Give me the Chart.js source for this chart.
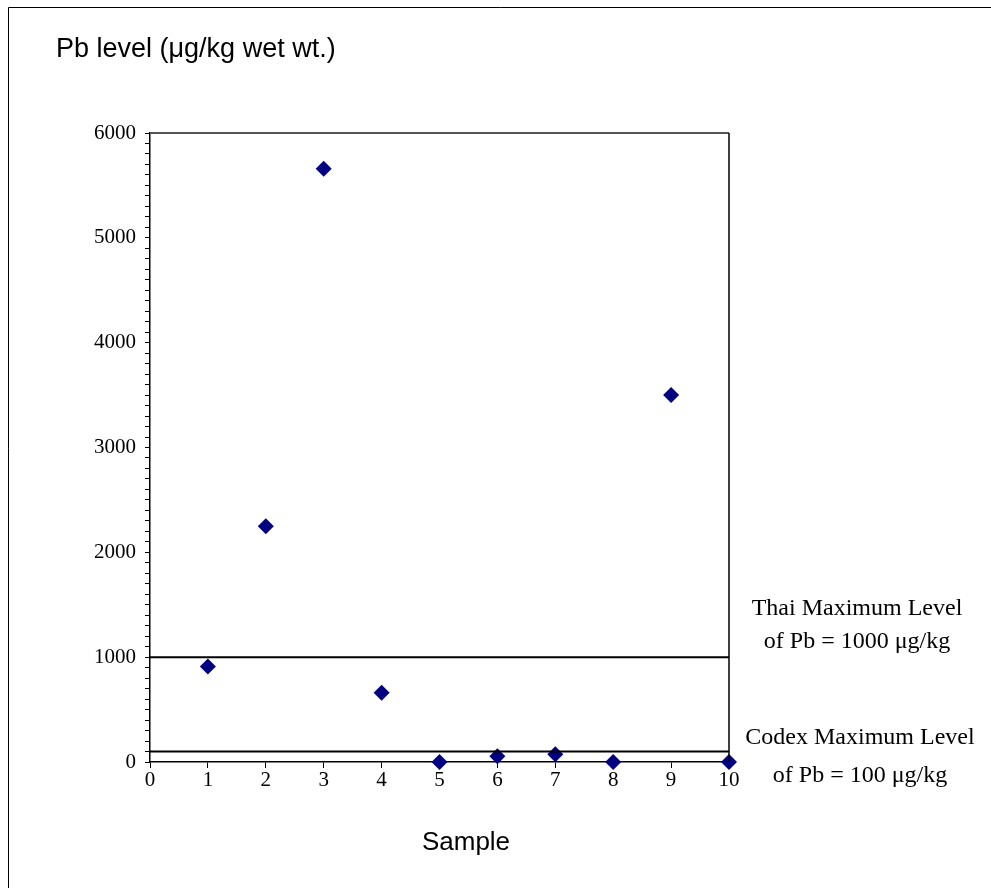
<!DOCTYPE html>
<html>
<head>
<meta charset="utf-8">
<script src="https://cdn.jsdelivr.net/npm/chart.js@4.4.0/dist/chart.umd.min.js"></script>
<style>
  html, body { margin: 0; padding: 0; background: #ffffff; }
  #wrap { position: relative; width: 991px; height: 888px; }
</style>
</head>
<body>
<div id="wrap"><canvas id="c" width="991" height="888"></canvas></div>
<script>
// ---- Data ----
const samples = [1, 2, 3, 4, 5, 6, 7, 8, 9, 10];
const pbLevels = [910, 2250, 5660, 660, 0, 55, 75, 0, 3500, 0];
const thaiLimit = 1000;
const codexLimit = 100;
const xRange = [0, 10];
const yRange = [0, 6000];
const yMajorStep = 1000;
const yMinorStep = 100;

const titleText = 'Pb level (\u03BCg/kg wet wt.)';
const xTitle = 'Sample';
const thaiLabel = ['Thai Maximum Level', 'of Pb = 1000 \u03BCg/kg'];
const codexLabel = ['Codex Maximum Level', 'of Pb = 100 \u03BCg/kg'];

const points = samples.map((s, i) => ({ x: s, y: pbLevels[i] }));
const thaiLine = xRange.map(x => ({ x: x, y: thaiLimit }));
const codexLine = xRange.map(x => ({ x: x, y: codexLimit }));

const serif = '"Liberation Serif", "Times New Roman", serif';
const sans = '"Liberation Sans", Arial, sans-serif';

const decor = {
  id: 'decor',
  beforeDraw(chart) {
    const ctx = chart.ctx;
    ctx.save();
    ctx.fillStyle = '#ffffff';
    ctx.fillRect(0, 0, chart.width, chart.height);
    // outer frame (left and top visible)
    ctx.strokeStyle = '#000000';
    ctx.lineWidth = 1;
    ctx.beginPath();
    ctx.moveTo(8.5, 1000);
    ctx.lineTo(8.5, 7.5);
    ctx.lineTo(1200, 7.5);
    ctx.stroke();
    ctx.restore();
  },
  afterDatasetsDraw(chart) {
    const ctx = chart.ctx;
    const a = chart.chartArea;
    const ys = chart.scales.y;
    ctx.save();
    // plot area top and right borders
    ctx.strokeStyle = '#555555';
    ctx.lineWidth = 2;
    ctx.beginPath();
    ctx.moveTo(a.left, a.top);
    ctx.lineTo(a.right, a.top);
    ctx.stroke();
    ctx.strokeStyle = '#000000';
    ctx.lineWidth = 1.5;
    ctx.beginPath();
    ctx.moveTo(a.right, a.top);
    ctx.lineTo(a.right, a.bottom);
    ctx.stroke();

    // title
    ctx.fillStyle = '#000000';
    ctx.font = '27px ' + sans;
    ctx.textAlign = 'left';
    ctx.textBaseline = 'middle';
    ctx.fillText(titleText, 56, 50);

    // x axis title
    ctx.textAlign = 'center';
    ctx.font = '26px ' + sans;
    ctx.fillText(xTitle, 466, 843);

    // limit annotations
    ctx.font = '24px ' + serif;
    const thaiY = ys.getPixelForValue(thaiLimit);
    const codexY = ys.getPixelForValue(codexLimit);
    ctx.fillText(thaiLabel[0], 857, thaiY - 48);
    ctx.fillText(thaiLabel[1], 857, thaiY - 15);
    ctx.fillText(codexLabel[0], 860, codexY - 14);
    ctx.fillText(codexLabel[1], 860, codexY + 24);
    ctx.restore();
  }
};

new Chart(document.getElementById('c'), {
  type: 'scatter',
  data: {
    datasets: [
      {
        label: 'Thai',
        type: 'line',
        data: thaiLine,
        borderColor: '#000000',
        borderWidth: 2,
        pointRadius: 0,
        fill: false
      },
      {
        label: 'Codex',
        type: 'line',
        data: codexLine,
        borderColor: '#000000',
        borderWidth: 2,
        pointRadius: 0,
        fill: false
      },
      {
        label: 'Pb',
        data: points,
        pointStyle: 'rectRot',
        pointRadius: 8,
        pointHoverRadius: 8,
        backgroundColor: '#000080',
        borderColor: '#000080',
        borderWidth: 0,
        clip: false
      }
    ]
  },
  options: {
    responsive: false,
    animation: false,
    events: [],
    layout: { padding: { left: 0, top: 133, right: 262, bottom: 86 } },
    plugins: {
      legend: { display: false },
      tooltip: { enabled: false },
      title: { display: false }
    },
    scales: {
      x: {
        type: 'linear',
        min: xRange[0],
        max: xRange[1],
        afterFit(scale) { scale.height = 40; },
        border: { display: true, color: '#000000', width: 1.5 },
        grid: { drawOnChartArea: false, drawTicks: true, tickLength: 6, tickColor: '#000000', tickWidth: 1 },
        ticks: {
          stepSize: 1,
          color: '#000000',
          font: { family: serif, size: 21 },
          padding: 0,
          maxRotation: 0
        }
      },
      y: {
        type: 'linear',
        min: yRange[0],
        max: yRange[1],
        afterFit(scale) { scale.width = 150; },
        afterBuildTicks(scale) {
          const t = [];
          for (let v = yRange[0]; v <= yRange[1]; v += yMinorStep) t.push({ value: v });
          scale.ticks = t;
        },
        border: { display: true, color: '#000000', width: 1.5 },
        grid: { drawOnChartArea: false, drawTicks: true, tickLength: 5, tickColor: '#000000', tickWidth: 1 },
        ticks: {
          autoSkip: false,
          color: '#000000',
          font: { family: serif, size: 21 },
          padding: 9,
          callback(v) { return v % yMajorStep === 0 ? String(v) : ''; }
        }
      }
    }
  },
  plugins: [decor]
});
</script>
</body>
</html>
